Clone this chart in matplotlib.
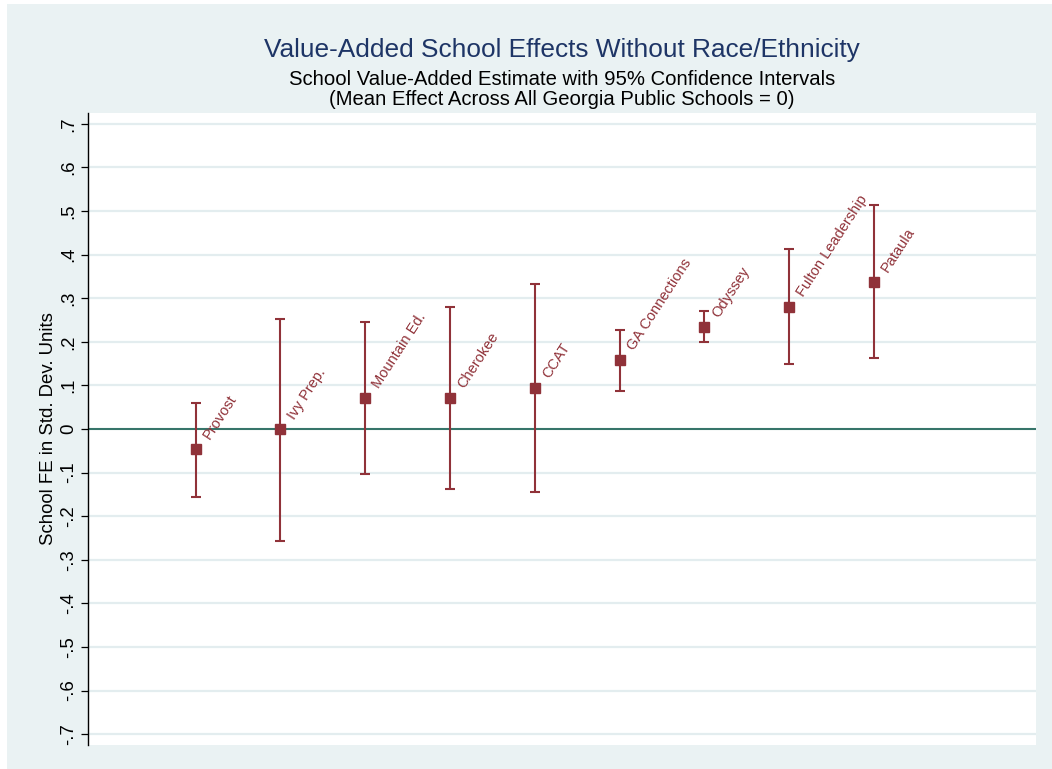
#!/usr/bin/env python3
"""
School value-added estimates with 95% confidence intervals, Stata-like look.
"""

import matplotlib
matplotlib.use('Agg')
import matplotlib.pyplot as plt
from matplotlib.patches import Rectangle
import numpy as np

plt.rcParams['font.family'] = ['Liberation Sans', 'DejaVu Sans']

# Data
schools = ['Provost', 'Ivy Prep.', 'Mountain Ed.', 'Cherokee', 'CCAT',
           'GA Connections', 'Odyssey', 'Fulton Leadership', 'Pataula']
effect = [-0.046, -0.001, 0.071, 0.071, 0.093, 0.158, 0.234, 0.281, 0.338]
ci_low = [-0.155, -0.258, -0.104, -0.138, -0.145, 0.087, 0.199, 0.148, 0.162]
ci_high = [0.060, 0.252, 0.245, 0.281, 0.333, 0.228, 0.271, 0.414, 0.514]
yticks = [0.7, 0.6, 0.5, 0.4, 0.3, 0.2, 0.1, 0.0, -0.1, -0.2, -0.3, -0.4, -0.5, -0.6, -0.7]
ytick_labels = ['.7', '.6', '.5', '.4', '.3', '.2', '.1', '0',
                '-.1', '-.2', '-.3', '-.4', '-.5', '-.6', '-.7']

# Colours
bg_color = '#EAF2F3'
grid_color = '#E3EDEF'
maroon = '#903239'
zero_color = '#37756A'
title_color = '#1E3566'

W, H = 1052, 769
fig = plt.figure(figsize=(W / 100, H / 100), dpi=100, facecolor='white')

# Light outer panel (Stata graph region)
fig.patches.append(Rectangle((7 / W, 0), 1, (H - 4) / H, transform=fig.transFigure,
                             facecolor=bg_color, edgecolor='none', zorder=-5))

left, right, top, bottom = 88, 1036, 113, 745
ax = fig.add_axes([left / W, (H - bottom) / H, (right - left) / W, (bottom - top) / H])
ax.set_zorder(2)
ax.set_facecolor('white')

x = np.arange(1, len(schools) + 1)
eff = np.array(effect)
yerr = [eff - np.array(ci_low), np.array(ci_high) - eff]

# Grid and zero line
for yv in yticks:
    if yv != 0:
        ax.axhline(yv, color=grid_color, lw=1.6, zorder=1)
ax.axhline(0, color=zero_color, lw=1.5, zorder=2)

ax.errorbar(x, eff, yerr=yerr, fmt='none', ecolor=maroon, elinewidth=1.5,
            capsize=3.8, capthick=1.5, zorder=3)
ax.plot(x, eff, 's', color=maroon, markersize=7, zorder=4)

for xi, yi, name in zip(x, eff, schools):
    ax.annotate(name, (xi, yi), xytext=(10, 6.5), textcoords='offset points',
                rotation=57, rotation_mode='anchor', ha='left', va='baseline',
                fontsize=10.5, color=maroon, zorder=5)

ax.set_xlim(-0.27, 10.91)
ax.set_ylim(-0.725, 0.725)
ax.set_xticks([])
ax.set_yticks(yticks)
ax.set_yticklabels(ytick_labels, rotation=90, va='center', fontsize=13.4)
ax.tick_params(axis='y', length=5, width=0.9, pad=3, color='black')

for side in ['top', 'right', 'bottom']:
    ax.spines[side].set_visible(False)
ax.spines['left'].set_linewidth(1.0)

ax.set_ylabel('School FE in Std. Dev. Units', fontsize=13.4, labelpad=2)

# Titles centred over the plot area
cx = (left + right) / 2 / W
fig.text(cx, 1 - 57 / H, 'Value-Added School Effects Without Race/Ethnicity',
         ha='center', va='baseline', fontsize=18.9, color=title_color)
fig.text(cx, 1 - 85 / H, 'School Value-Added Estimate with 95% Confidence Intervals',
         ha='center', va='baseline', fontsize=14.6, color='black')
fig.text(cx, 1 - 105 / H, '(Mean Effect Across All Georgia Public Schools = 0)',
         ha='center', va='baseline', fontsize=14.6, color='black')

fig.savefig('out.png', dpi=100, facecolor=fig.get_facecolor())
